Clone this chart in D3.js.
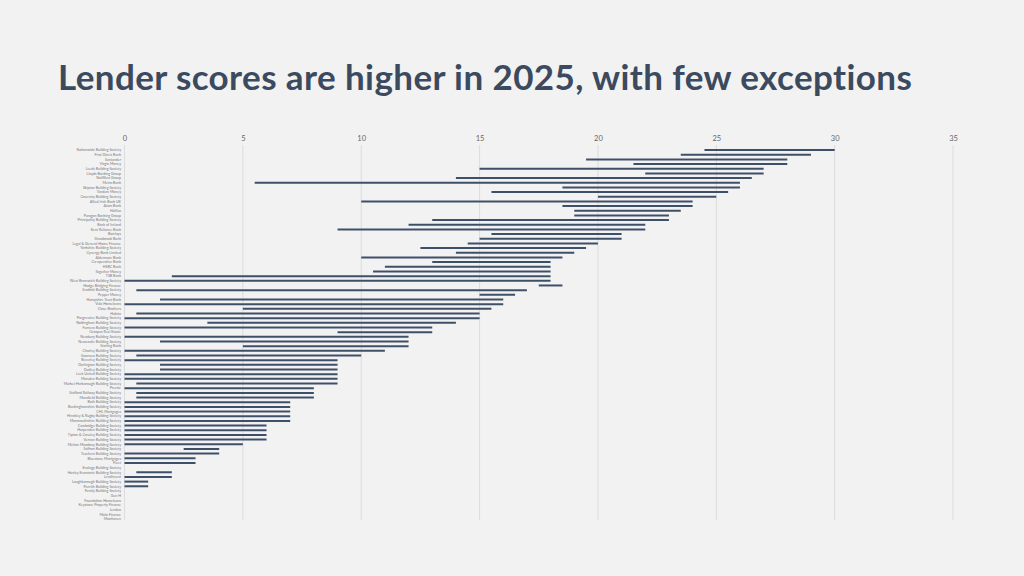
<!DOCTYPE html>
<html>
<head>
<meta charset="utf-8">
<script src="https://cdn.jsdelivr.net/npm/d3@7"></script>
<style>
  html, body { margin: 0; padding: 0; background: #f2f2f2; }
  svg { display: block; }
</style>
</head>
<body>
<script>
// lenders, top to bottom
const lenders = [
  "Nationwide Building Society", "First Direct Bank", "Santander", "Virgin Money",
  "Leeds Building Society", "Lloyds Banking Group", "NatWest Group", "Metro Bank",
  "Skipton Building Society", "Tandem Money", "Coventry Building Society", "Allied Irish Bank UK",
  "Atom Bank", "Halifax", "Paragon Banking Group", "Principality Building Society",
  "Bank of Ireland", "Kent Reliance Bank", "Barclays", "Shawbrook Bank",
  "Legal & General Home Finance", "Yorkshire Building Society", "Cynergy Bank Limited", "Aldermore Bank",
  "Co-operative Bank", "HSBC Bank", "Together Money", "TSB Bank",
  "West Bromwich Building Society", "Hodge Bridging Finance", "Scottish Building Society", "Pepper Money",
  "Hampshire Trust Bank", "Vida Homeloans", "Close Brothers", "Habito",
  "Progressive Building Society", "Nottingham Building Society", "Furness Building Society", "Octopus Real Estate",
  "Newbury Building Society", "Newcastle Building Society", "Starling Bank", "Chorley Building Society",
  "Swansea Building Society", "Beverley Building Society", "Darlington Building Society", "Dudley Building Society",
  "Leek United Building Society", "Marsden Building Society", "Market Harborough Building Society", "Precise",
  "Stafford Railway Building Society", "Mansfield Building Society", "Bath Building Society", "Buckinghamshire Building Society",
  "CHL Mortgages", "Hinckley & Rugby Building Society", "Monmouthshire Building Society", "Cambridge Building Society",
  "Harpenden Building Society", "Tipton & Coseley Building Society", "Vernon Building Society", "Melton Mowbray Building Society",
  "Saffron Building Society", "Teachers Building Society", "Bluestone Mortgages", "Fleet",
  "Ecology Building Society", "Hanley Economic Building Society", "LendInvest", "Loughborough Building Society",
  "Penrith Building Society", "Family Building Society", "Gen H", "Foundation Homeloans",
  "Keystone Property Finance", "Lendco", "Molo Finance", "Masthaven"
];

// scores per lender (null = no score)
const score2024 = [
  24.5, 23.5, 19.5, 21.5, 15, 22, 14, 5.5, 18.5, 15.5, 20, 10,
  18.5, 19, 19, 13, 12, 9, 15.5, 15, 14.5, 12.5, 14, 10,
  13, 11, 10.5, 2, 0, 17.5, 0.5, 15, 1.5, 0, 5, 0.5,
  0, 3.5, 0, 9, 0, 1.5, 5, 0, 0.5, 0, 1.5, 1.5,
  0, 0, 0.5, 0, 0.5, 0.5, 0, 0, 0, 0, 0, 0,
  0, 0, 0, 0, 2.5, 0, 0, 0, null, 0.5, 0, 0,
  0, null, null, null, null, null, null, null
];
const score2025 = [
  30, 29, 28, 28, 27, 27, 26.5, 26, 26, 25.5, 25, 24,
  24, 23.5, 23, 23, 22, 22, 21, 21, 20, 19.5, 19, 18.5,
  18, 18, 18, 18, 18, 18.5, 17, 16.5, 16, 16, 15.5, 15,
  15, 14, 13, 13, 12, 12, 12, 11, 10, 9, 9, 9,
  9, 9, 9, 8, 8, 8, 7, 7, 7, 7, 7, 6,
  6, 6, 6, 5, 4, 4, 3, 3, null, 2, 2, 1,
  1, null, null, null, null, null, null, null
];

const xTicks = [0, 5, 10, 15, 20, 25, 30, 35];

const width = 1024, height = 576;
const svg = d3.select("body").append("svg")
  .attr("width", width)
  .attr("height", height);

svg.append("rect")
  .attr("width", width)
  .attr("height", height)
  .attr("fill", "#f2f2f2");

// title
svg.append("text")
  .attr("x", 58)
  .attr("y", 90)
  .attr("font-family", "Lato, 'Noto Sans', sans-serif")
  .attr("font-weight", 700)
  .attr("font-size", 35)
  .attr("letter-spacing", 0.4)
  .attr("fill", "#3b4a5e")
  .text("Lender scores are higher in 2025, with few exceptions");

const x = d3.scaleLinear().domain([0, 35]).range([124.5, 953]);
const y = d3.scaleBand().domain(lenders).range([147.7, 521.3]);

// gridlines + top tick labels
const grid = svg.append("g");
grid.selectAll("line")
  .data(xTicks)
  .enter().append("line")
  .attr("x1", d => x(d)).attr("x2", d => x(d))
  .attr("y1", 145).attr("y2", 520)
  .attr("stroke", "#dcdcdc")
  .attr("stroke-width", 1);

const axis = d3.axisTop(x).tickValues(xTicks).tickSize(0).tickPadding(0);
const ax = svg.append("g")
  .attr("transform", "translate(0,141)")
  .call(axis);
ax.select(".domain").remove();
ax.selectAll("text")
  .attr("font-family", "Lato, 'Noto Sans', sans-serif")
  .attr("font-size", 7.5)
  .attr("fill", "#666");

// lender labels
svg.append("g").selectAll("text")
  .data(lenders)
  .enter().append("text")
  .attr("x", 121)
  .attr("y", d => y(d) + y.bandwidth() / 2)
  .attr("dy", "0.35em")
  .attr("text-anchor", "end")
  .attr("font-family", "Lato, 'Noto Sans', sans-serif")
  .attr("font-size", 3.6)
  .attr("fill", "#777")
  .text(d => d);

// range bars 2024 -> 2025
const rows = lenders.map((name, i) => ({ name, a: score2024[i], b: score2025[i] }))
  .filter(d => d.a !== null && d.b !== null);

svg.append("g").selectAll("line")
  .data(rows)
  .enter().append("line")
  .attr("x1", d => x(d.a))
  .attr("x2", d => x(d.b))
  .attr("y1", d => y(d.name) + y.bandwidth() / 2)
  .attr("y2", d => y(d.name) + y.bandwidth() / 2)
  .attr("stroke", "#3e5068")
  .attr("stroke-width", 2);
</script>
</body>
</html>
